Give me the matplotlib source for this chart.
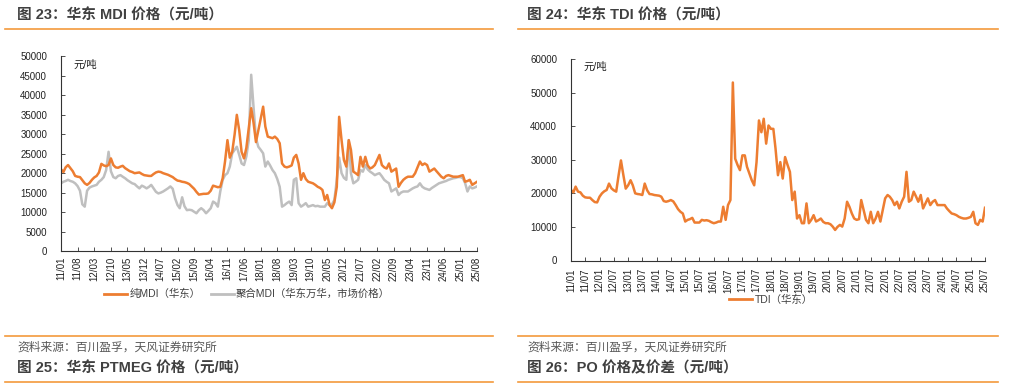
import pandas as pd
import matplotlib
matplotlib.use("Agg")
import matplotlib.pyplot as plt
from matplotlib.lines import Line2D

plt.rcParams["font.family"] = ["Liberation Sans", "Noto Sans CJK SC"]

# ---------------------------------------------------------------------------
# Data (monthly)
# ---------------------------------------------------------------------------
MDI_START = "2011-01-01"
pure_mdi = [
    21000, 20300, 21500, 22100, 21300, 20500, 19300, 19100, 19000, 18200,
    17400, 17000, 17500, 18300, 18900, 19300, 20200, 22400, 22000, 21800,
    22100, 23800, 22100, 21500, 21400, 21700, 21900, 21300, 20900, 20500,
    20300, 20000, 20100, 20200, 19800, 19500, 19400, 19300, 19300, 19800,
    20200, 20400, 20300, 20000, 19800, 19600, 19300, 19000, 18500, 18100,
    18000, 17800, 17700, 17500, 17200, 16600, 16000, 15200, 14500, 14600,
    14700, 14700, 14800, 15500, 16800, 16600, 16400, 16500, 18700, 23000,
    28500, 24000, 25500, 30000, 35000, 31000, 25500, 23800, 26500, 31500,
    36700, 33000, 28000, 31000, 34000, 37100, 32000, 29400, 29200, 29000,
    29400, 28800, 27700, 22500, 21700, 21500, 21700, 22000, 24000, 24700,
    22500, 18300, 20000, 18500, 17800, 17600, 17400, 17000, 16500, 16200,
    15700, 13100, 14400, 11800, 11000, 12500, 16500, 34500, 28500, 23400,
    21700, 28500, 26000, 20400, 20000, 19500, 24200, 21700, 24200, 22000,
    21200, 21500, 22100, 23500, 24700, 22100, 21500, 21200, 22500, 20400,
    20800, 21200, 16500, 17500, 18300, 18800, 19100, 19100, 19100, 20000,
    21500, 23000, 22100, 22500, 22100, 20400, 20800, 21200, 20500, 19800,
    19100, 18700, 19300, 19500, 19300, 19100, 19100, 19100, 19300, 19500,
    17800, 18000, 18300, 17000, 17400, 17800,
]
polymeric_mdi = [
    17400, 17800, 18000, 18300, 18000, 17800, 17400, 16700, 15500, 12000,
    11400, 15500, 16300, 16600, 16800, 17000, 17800, 18300, 19000, 20800,
    25500, 20500, 19000, 18700, 19300, 19500, 19100, 18700, 18200, 17800,
    17400, 17200, 16600, 16100, 16800, 16500, 16100, 16500, 17000, 16100,
    15200, 14800, 15000, 15300, 15700, 16100, 16600, 16000, 13500, 11800,
    11000, 13800, 11500, 10500, 10600, 10500, 10100, 9700, 10500, 11000,
    10500, 9700, 10300, 11000, 12700, 12300, 11400, 15300, 18300, 19500,
    20000, 21700, 25100, 26000, 26800, 24700, 22500, 22100, 24300, 28500,
    45300, 37000, 29000, 26800, 26000, 25100, 21700, 23000, 22000, 20800,
    20000, 18500, 16500, 11400, 11800, 12300, 12700, 11800, 18300, 18700,
    12300, 11400, 11800, 12300, 11400, 11600, 11800, 11500, 11600, 11400,
    11400, 11400, 12300, 11800, 12000, 13100, 18300, 24000, 20000, 18800,
    18300, 28500, 20000, 17400, 17800, 18300, 20800, 20400, 22100, 21000,
    20400, 20000, 19500, 19800, 20000, 19200, 18300, 17800, 17400, 15300,
    15700, 16100, 14400, 15000, 15300, 15300, 15300, 15700, 16100, 16400,
    16600, 17400, 16500, 16100, 15900, 15700, 16200, 16600, 17000, 17400,
    17600, 17800, 18000, 18300, 18500, 18700, 18800, 19000, 19000, 18700,
    17500, 15300, 16600, 16100, 16300, 16600,
]
mdi_ticks = [
    "11/01", "11/08", "12/03", "12/10", "13/05", "13/12", "14/07", "15/02",
    "15/09", "16/04", "16/11", "17/06", "18/01", "18/08", "19/03", "19/10",
    "20/05", "20/12", "21/07", "22/02", "22/09", "23/04", "23/11", "24/06",
    "25/01", "25/08",
]
mdi_yticks = list(range(0, 50001, 5000))

TDI_START = "2011-01-01"
tdi = [
    21000, 20300, 22000, 20500, 20300, 19300, 18800, 18700, 18700, 18000,
    17400, 17300, 19000, 20000, 20600, 21000, 22900, 21500, 20900, 20500,
    25400, 29800, 25400, 21400, 22400, 23900, 22400, 20000, 19800, 19700,
    19500, 22900, 20900, 19800, 19700, 19500, 19400, 19300, 19000, 17700,
    17500, 17700, 18000, 17600, 16500, 15300, 14500, 14000, 11600, 12100,
    12300, 12700, 11300, 11300, 11300, 12100, 11900, 12000, 11800, 11400,
    11100, 11300, 11600, 11600, 16000, 12100, 16500, 18000, 53000, 30300,
    28400, 26900, 31300, 31300, 27900, 25900, 23900, 22400, 29300, 41700,
    38200, 42200, 34800, 40200, 39200, 39200, 33300, 25400, 29300, 24400,
    30800, 28500, 26400, 18000, 20500, 12500, 13500, 11100, 11100, 17000,
    11100, 12100, 13500, 11600, 12000, 12500, 11500, 11100, 11100, 10800,
    10100, 9100, 10000, 10600, 10100, 12500, 17500, 16000, 14000, 12500,
    12100, 12300, 18000, 15000, 12100, 11100, 14500, 11100, 12500, 14500,
    11600, 15000, 18500, 19500, 19000, 18000, 16500, 17500, 15500, 17500,
    19000, 26400, 17500, 18000, 20500, 19000, 17500, 19500, 15500, 17000,
    18500, 16500, 17500, 18000, 16500, 16500, 16500, 16500, 15500, 14700,
    14000, 13800, 13500, 13000, 12700, 12500, 12500, 12700, 13000, 14500,
    11100, 10600, 12100, 11600, 15700,
]
tdi_ticks = [
    "11/01", "11/07", "12/01", "12/07", "13/01", "13/07", "14/01", "14/07",
    "15/01", "15/07", "16/01", "16/07", "17/01", "17/07", "18/01", "18/07",
    "19/01", "19/07", "20/01", "20/07", "21/01", "21/07", "22/01", "22/07",
    "23/01", "23/07", "24/01", "24/07", "25/01", "25/07",
]
tdi_yticks = list(range(0, 60001, 10000))

ORANGE = "#ED7D31"
GRAY = "#BFBFBF"
RULE = "#F39A3C"
TEXT = "#404040"


def to_dates(labels):
    return pd.to_datetime(["20" + s for s in labels], format="%Y/%m")


def style_axes(ax, ticks, yticks, ymax, xpad):
    dates = to_dates(ticks)
    ax.set_xlim(dates[0], dates[-1])
    ax.set_ylim(0, ymax)
    ax.set_xticks(dates)
    ax.set_xticklabels(ticks, rotation=90)
    ax.set_yticks(yticks)
    ax.set_yticklabels([str(v) for v in yticks])
    for side in ("top", "right"):
        ax.spines[side].set_visible(False)
    for side in ("left", "bottom"):
        ax.spines[side].set_color("#333333")
        ax.spines[side].set_linewidth(0.8)
    ax.tick_params(axis="both", direction="in", length=3, width=0.6,
                   color="#333333", labelsize=7, labelcolor="#222222")
    ax.tick_params(axis="y", pad=10)
    ax.tick_params(axis="x", pad=xpad)
    ax.text(0.03, 0.985, "元/吨", transform=ax.transAxes, fontsize=7.5,
            color="#222222", va="top", ha="left")


fig = plt.figure(figsize=(10.11, 3.89), dpi=100)
W, H = 1011.0, 389.0


def fx(px):
    return px / W


def fy(py):
    return 1 - py / H


# --- left panel: MDI -------------------------------------------------------
ax1 = fig.add_axes([fx(61), fy(251), fx(477 - 61), (251 - 56.5) / H])
mdi_dates = pd.date_range(MDI_START, periods=len(pure_mdi), freq="MS")
ax1.plot(mdi_dates, polymeric_mdi, color=GRAY, lw=1.8)
ax1.plot(mdi_dates, pure_mdi, color=ORANGE, lw=1.8)
style_axes(ax1, mdi_ticks, mdi_yticks, 50000, 4)

handles = [Line2D([], [], color=ORANGE, lw=2), Line2D([], [], color=GRAY, lw=2)]
fig.legend(handles, ["纯MDI（华东）", "聚合MDI（华东万华，市场价格）"],
           loc="center", bbox_to_anchor=(fx(247), fy(294)), ncol=2,
           frameon=False, fontsize=7.5, handlelength=2.2, handletextpad=0.2,
           columnspacing=1.0, labelcolor=TEXT)

# --- right panel: TDI ------------------------------------------------------
ax2 = fig.add_axes([fx(571), fy(260.5), fx(985 - 571), (260.5 - 59) / H])
tdi_dates = pd.date_range(TDI_START, periods=len(tdi), freq="MS")
ax2.plot(tdi_dates, tdi, color=ORANGE, lw=1.8)
style_axes(ax2, tdi_ticks, tdi_yticks, 60000, 5.5)

fig.legend([Line2D([], [], color=ORANGE, lw=2)], ["TDI（华东）"],
           loc="center", bbox_to_anchor=(fx(771), fy(300)), frameon=False,
           fontsize=7.5, handlelength=2.2, handletextpad=0.2, labelcolor=TEXT)

# --- page furniture: titles, rules, sources --------------------------------
for x0, x1 in ((5, 493), (518, 998)):
    for y in (28.5, 336, 382):
        fig.add_artist(Line2D([fx(x0), fx(x1)], [fy(y), fy(y)],
                              color=RULE, lw=1.2))

titles = [
    (17, 15, "图 23：华东 MDI 价格（元/吨）"),
    (527, 15, "图 24：华东 TDI 价格（元/吨）"),
    (17, 368, "图 25：华东 PTMEG 价格（元/吨）"),
    (527, 368, "图 26：PO 价格及价差（元/吨）"),
]
for x, y, s in titles:
    fig.text(fx(x), fy(y), s, fontsize=10.5, fontweight="bold", color=TEXT,
             ha="left", va="center")

for x in (17, 527):
    fig.text(fx(x), fy(347.5), "资料来源：百川盈孚，天风证券研究所",
             fontsize=8.5, color="#595959", ha="left", va="center")

fig.savefig("out.png", dpi=100)
